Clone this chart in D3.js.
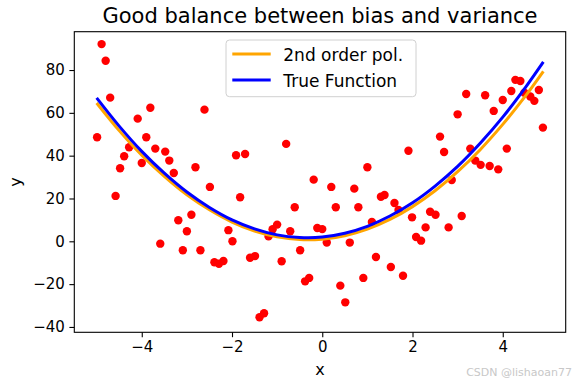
<!DOCTYPE html>
<html><head><meta charset="utf-8">
<script src="https://cdn.jsdelivr.net/npm/d3@7"></script>
<style>body{margin:0;background:#fff}svg{display:block}text{font-family:"DejaVu Sans",sans-serif}</style>
</head><body><svg id="c" width="575" height="385"></svg>
<script>
// scatter data
const pointsX = [-4.89,-4.80,-4.70,-3.81,-2.61,-4.09,-4.99,-3.90,-4.28,-3.70,-3.48,-4.39,-3.39,-4.00,-4.48,-2.81,-3.29,-1.91,
 -4.58,-2.49,-1.82,-2.90,-3.19,-3.00,-2.08,-1.99,-3.59,-3.09,-2.70,-2.39,-2.29,-2.19,
 1.00,-0.19,0.20,0.71,1.30,1.38,1.60,-0.61,0.30,0.80,1.10,-1.10,-1.00,-1.19,-0.71,-0.11,0.00,0.10,0.61,-0.49,-1.60,-1.49,-0.90,1.19,1.52,-0.38,-0.29,0.91,0.40,0.51,-1.39,-1.29,
 4.28,4.39,4.80,4.19,3.19,3.61,4.00,4.61,4.70,4.48,3.80,3.00,4.89,2.61,1.91,2.70,3.28,4.09,3.39,3.51,3.71,3.90,2.87,
 1.69,2.39,2.51,1.99,3.09,2.29,2.80,2.08,2.19,1.79,-1.71,-0.80];
const pointsY = [92.1,84.3,67.1,62.4,61.5,57.3,48.6,48.6,43.9,43.3,41.9,39.7,37.7,36.6,34.1,34.6,31.9,40.2,
 21.2,25.4,20.6,12.4,9.8,4.7,5.2,0.0,-1.1,-4.2,-4.2,-9.8,-10.5,-9.2,
 34.6,28.8,25.4,24.6,20.8,21.6,17.9,15.9,15.9,15.9,9.0,5.6,7.8,2.3,4.7,6.2,5.7,-0.6,-0.6,-4.2,-7.7,-6.9,-9.3,-7.3,-12.0,-18.7,-17.1,-17.1,-20.7,-28.5,-35.5,-33.6,
 75.4,74.9,70.7,70.2,68.8,68.2,66.0,67.6,65.6,69.4,60.9,59.3,53.1,48.9,42.3,41.7,43.3,43.3,37.7,35.7,35.2,33.6,28.6,
 14.6,13.8,12.4,11.2,11.8,6.5,6.5,2.0,0.3,-16.1,40.8,45.5];
// curves (read at sample x positions)
const curveX   = [-5,-4.5,-4,-3.5,-3,-2.5,-2,-1.5,-1,-0.5,0,0.5,1,1.5,2,2.5,3,3.5,4,4.5,4.9];
const polY     = [64.6,51.7,40.2,30.3,21.7,14.7,9.0,4.8,2.1,0.8,1.0,2.6,5.7,10.2,16.2,23.6,32.5,42.8,54.6,67.8,79.4];
const trueY    = [67.0,53.8,42.0,31.8,23.0,15.8,10.0,5.8,3.0,1.8,2.0,3.8,7.0,11.8,18.0,25.8,35.0,45.8,58.0,71.8,83.8];
const xTicks = [-4,-2,0,2,4];
const yTicks = [-40,-20,0,20,40,60,80];
const seriesNames = ["2nd order pol.","True Function"];
const titleText = "Good balance between bias and variance";

const svg = d3.select("#c");
const L=74.3, R=565.7, T=31.7, B=332.3;
const x = d3.scaleLinear().domain([-5.495,5.395]).range([L,R]);
const y = d3.scaleLinear().domain([-42.5,97.9]).range([B,T]);
const fmt = d => d<0 ? "\u2212"+Math.abs(d) : String(d);

// points
svg.append("g").selectAll("circle").data(pointsX.map((v,i)=>[v,pointsY[i]])).join("circle")
  .attr("cx",d=>x(d[0])).attr("cy",d=>y(d[1])).attr("r",4.2).attr("fill","red");

const line = d3.line().x(d=>x(d[0])).y(d=>y(d[1])).curve(d3.curveCatmullRom);
svg.append("path").datum(curveX.map((v,i)=>[v,polY[i]])).attr("d",line)
  .attr("fill","none").attr("stroke","orange").attr("stroke-width",3);
svg.append("path").datum(curveX.map((v,i)=>[v,trueY[i]])).attr("d",line)
  .attr("fill","none").attr("stroke","blue").attr("stroke-width",3);

// frame
svg.append("rect").attr("x",L).attr("y",T).attr("width",R-L).attr("height",B-T)
  .attr("fill","none").attr("stroke","#000").attr("stroke-width",1.1);

// axes
const gx = svg.append("g").attr("transform",`translate(0,${B})`)
  .call(d3.axisBottom(x).tickValues(xTicks).tickFormat(fmt).tickSize(4.9).tickPadding(4.5));
const gy = svg.append("g").attr("transform",`translate(${L},0)`)
  .call(d3.axisLeft(y).tickValues(yTicks).tickFormat(fmt).tickSize(4.9).tickPadding(4.5));
[gx,gy].forEach(g=>{
  g.select(".domain").remove();
  g.selectAll(".tick line").attr("stroke","#000").attr("stroke-width",1.1);
  g.selectAll(".tick text").attr("fill","#000").style("font-size","15px").style("font-family","DejaVu Sans");
});

// title & labels
svg.append("text").attr("x",(L+R)/2).attr("y",23.3).attr("text-anchor","middle")
  .style("font-size","21px").text(titleText);
svg.append("text").attr("x",(L+R)/2).attr("y",375).attr("text-anchor","middle")
  .style("font-size","16px").text("x");
svg.append("text").attr("transform",`translate(21,${(T+B)/2}) rotate(-90)`).attr("text-anchor","middle")
  .style("font-size","16px").text("y");

// legend
const lg = svg.append("g");
lg.append("rect").attr("x",226).attr("y",40).attr("width",190).attr("height",56.7).attr("rx",3.5)
  .attr("fill","#fff").attr("fill-opacity",0.8).attr("stroke","#d0d0d0").attr("stroke-width",1);
const lcol=["orange","blue"];
seriesNames.forEach((n,i)=>{
  const yy = 54 + i*26;
  lg.append("line").attr("x1",232.3).attr("x2",270.7).attr("y1",yy).attr("y2",yy)
    .attr("stroke",lcol[i]).attr("stroke-width",3);
  lg.append("text").attr("x",283.3).attr("y",yy+6.5).style("font-size","17px").attr("fill","#000").text(n);
});

// watermark
svg.append("text").attr("x",572).attr("y",376).attr("text-anchor","end")
  .style("font-size","11px").attr("fill","#c8c8c8").text("CSDN @lishaoan77");
</script></body></html>
